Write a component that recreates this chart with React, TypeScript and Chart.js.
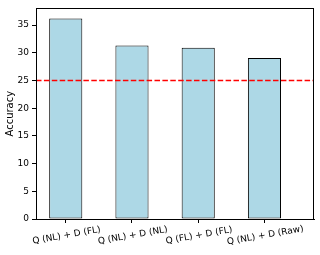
import React, { useEffect, useRef } from "react";
import { Chart, registerables } from "chart.js";

Chart.register(...registerables);

const CATEGORIES = ["Q (NL) + D (FL)", "Q (NL) + D (NL)", "Q (FL) + D (FL)", "Q (NL) + D (Raw)"];
const ACCURACY = [36.2, 31.3, 30.9, 29.05];
const BASELINE = 25;
const Y_TICKS = [0, 5, 10, 15, 20, 25, 30, 35];

const FONT = "'DejaVu Sans', sans-serif";
const TICK_SIZE = 9;

export default function App() {
  const ref = useRef<HTMLCanvasElement | null>(null);

  useEffect(() => {
    if (!ref.current) return;
    const overlay = {
      id: "overlay",
      afterDatasetsDraw(chart: any) {
        const { ctx, chartArea, scales } = chart;
        const y = scales.y.getPixelForValue(BASELINE);
        ctx.save();
        ctx.strokeStyle = "#ff0000";
        ctx.lineWidth = 1.5;
        ctx.setLineDash([5.5, 2.4]);
        ctx.beginPath();
        ctx.moveTo(chartArea.left, y);
        ctx.lineTo(chartArea.right, y);
        ctx.stroke();
        ctx.restore();
      },
      afterDraw(chart: any) {
        const { ctx, chartArea, scales } = chart;
        ctx.save();
        ctx.strokeStyle = "#000";
        ctx.lineWidth = 1;
        ctx.strokeRect(
          Math.round(chartArea.left) + 0.5,
          Math.round(chartArea.top) + 0.5,
          Math.round(chartArea.right - chartArea.left) - 1,
          Math.round(chartArea.bottom - chartArea.top)
        );
        ctx.fillStyle = "#000";
        ctx.font = `${TICK_SIZE}px ${FONT}`;
        ctx.textAlign = "center";
        ctx.textBaseline = "middle";
        CATEGORIES.forEach((label, i) => {
          const x = scales.x.getPixelForValue(i);
          ctx.save();
          ctx.translate(x + 0.8, chartArea.bottom + 16.5);
          ctx.rotate((-10 * Math.PI) / 180);
          ctx.fillText(label, 0, 0);
          ctx.restore();
        });
        ctx.restore();
      },
    };

    const chart = new Chart(ref.current, {
      type: "bar",
      data: {
        datasets: [
          {
            data: ACCURACY.map((v, i) => ({ x: i, y: v })),
            backgroundColor: "#add8e6",
            borderColor: "#000",
            borderWidth: 1,
            borderSkipped: false,
            barPercentage: 0.5,
            categoryPercentage: 1,
          },
        ],
      },
      options: {
        responsive: false,
        animation: false,
        devicePixelRatio: 1,
        layout: { padding: { top: 6, right: 6, left: 0, bottom: 0 } },
        plugins: { legend: { display: false }, tooltip: { enabled: false } },
        scales: {
          x: {
            type: "linear",
            offset: false,
            min: -0.449,
            max: 3.748,
            afterBuildTicks: (s: any) => {
              s.ticks = CATEGORIES.map((_, i) => ({ value: i }));
            },
            afterFit: (s: any) => {
              s.height = 36;
            },
            ticks: { display: false },
            grid: { offset: false, drawOnChartArea: false, drawTicks: true, tickLength: 4, color: "#000" },
            border: { display: true, color: "#000", width: 1 },
          },
          y: {
            min: 0,
            max: 38,
            afterBuildTicks: (s: any) => {
              s.ticks = Y_TICKS.map((v) => ({ value: v }));
            },
            afterFit: (s: any) => {
              s.width = 36;
            },
            ticks: { color: "#000", font: { family: FONT, size: TICK_SIZE }, padding: 3 },
            grid: { drawOnChartArea: false, drawTicks: true, tickLength: 4, color: "#000" },
            border: { display: true, color: "#000", width: 1 },
            title: { display: true, text: "Accuracy", color: "#000", font: { family: FONT, size: 10 } },
          },
        },
      },
      plugins: [overlay],
    });
    return () => chart.destroy();
  }, []);

  return (
    <div style={{ position: "fixed", left: 0, top: 0, width: 320, height: 255, background: "#fff" }}>
      <canvas ref={ref} width={320} height={255} style={{ width: 320, height: 255, display: "block" }} />
    </div>
  );
}
